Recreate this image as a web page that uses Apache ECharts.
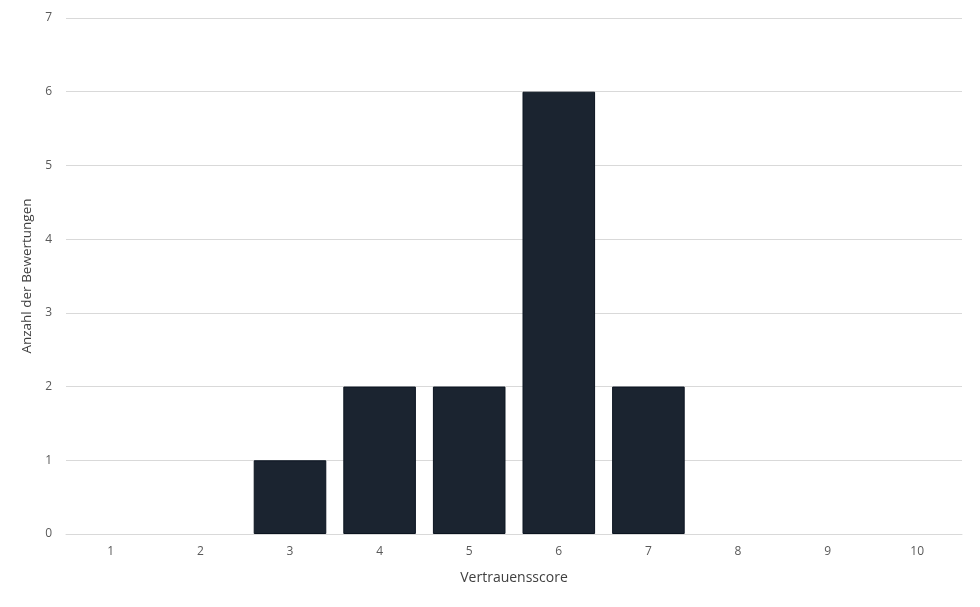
<!DOCTYPE html>
<html><head><meta charset="utf-8">
<script src="https://cdn.jsdelivr.net/npm/echarts@6/dist/echarts.min.js"></script>
<style>html,body{margin:0;padding:0;background:#fff}#c{width:980px;height:607px}</style>
</head><body><div id="c"></div>
<script>
const categories = ['1','2','3','4','5','6','7','8','9','10'];
const counts = [0,0,1,2,2,6,2,0,0,0];
const yTicks = {min:0, max:7, interval:1};
const xName = 'Vertrauensscore';
const yName = 'Anzahl der Bewertungen';

const chart = echarts.init(document.getElementById('c'), null, {renderer:'canvas'});
chart.setOption({
  animation:false,
  textStyle:{fontFamily:'Open Sans'},
  grid:{left:66,right:18,top:18,bottom:73,containLabel:false},
  xAxis:{type:'category',data:categories,
    name:xName,nameLocation:'middle',nameGap:37,
    nameTextStyle:{color:'#404040',fontSize:14,fontFamily:'Open Sans'},
    axisLine:{show:true,lineStyle:{color:'#d9d9d9'}},axisTick:{show:false},
    axisLabel:{color:'#595959',fontSize:12,margin:12}},
  yAxis:{type:'value',min:yTicks.min,max:yTicks.max,interval:yTicks.interval,
    name:yName,nameLocation:'middle',nameGap:27,
    nameTextStyle:{color:'#404040',fontSize:13.5,fontFamily:'Open Sans'},
    axisLine:{show:false},axisTick:{show:false},
    axisLabel:{color:'#595959',fontSize:12,margin:14},
    splitLine:{lineStyle:{color:'#d9d9d9',width:1}}},
  series:[{type:'bar',z:3,
    data:counts.map(v => ({value:v, itemStyle:{borderWidth: v ? 1 : 0}})),
    barCategoryGap:'19%',
    itemStyle:{color:'#1b2430',borderColor:'#0b1420',borderWidth:1}}]
});
</script></body></html>
